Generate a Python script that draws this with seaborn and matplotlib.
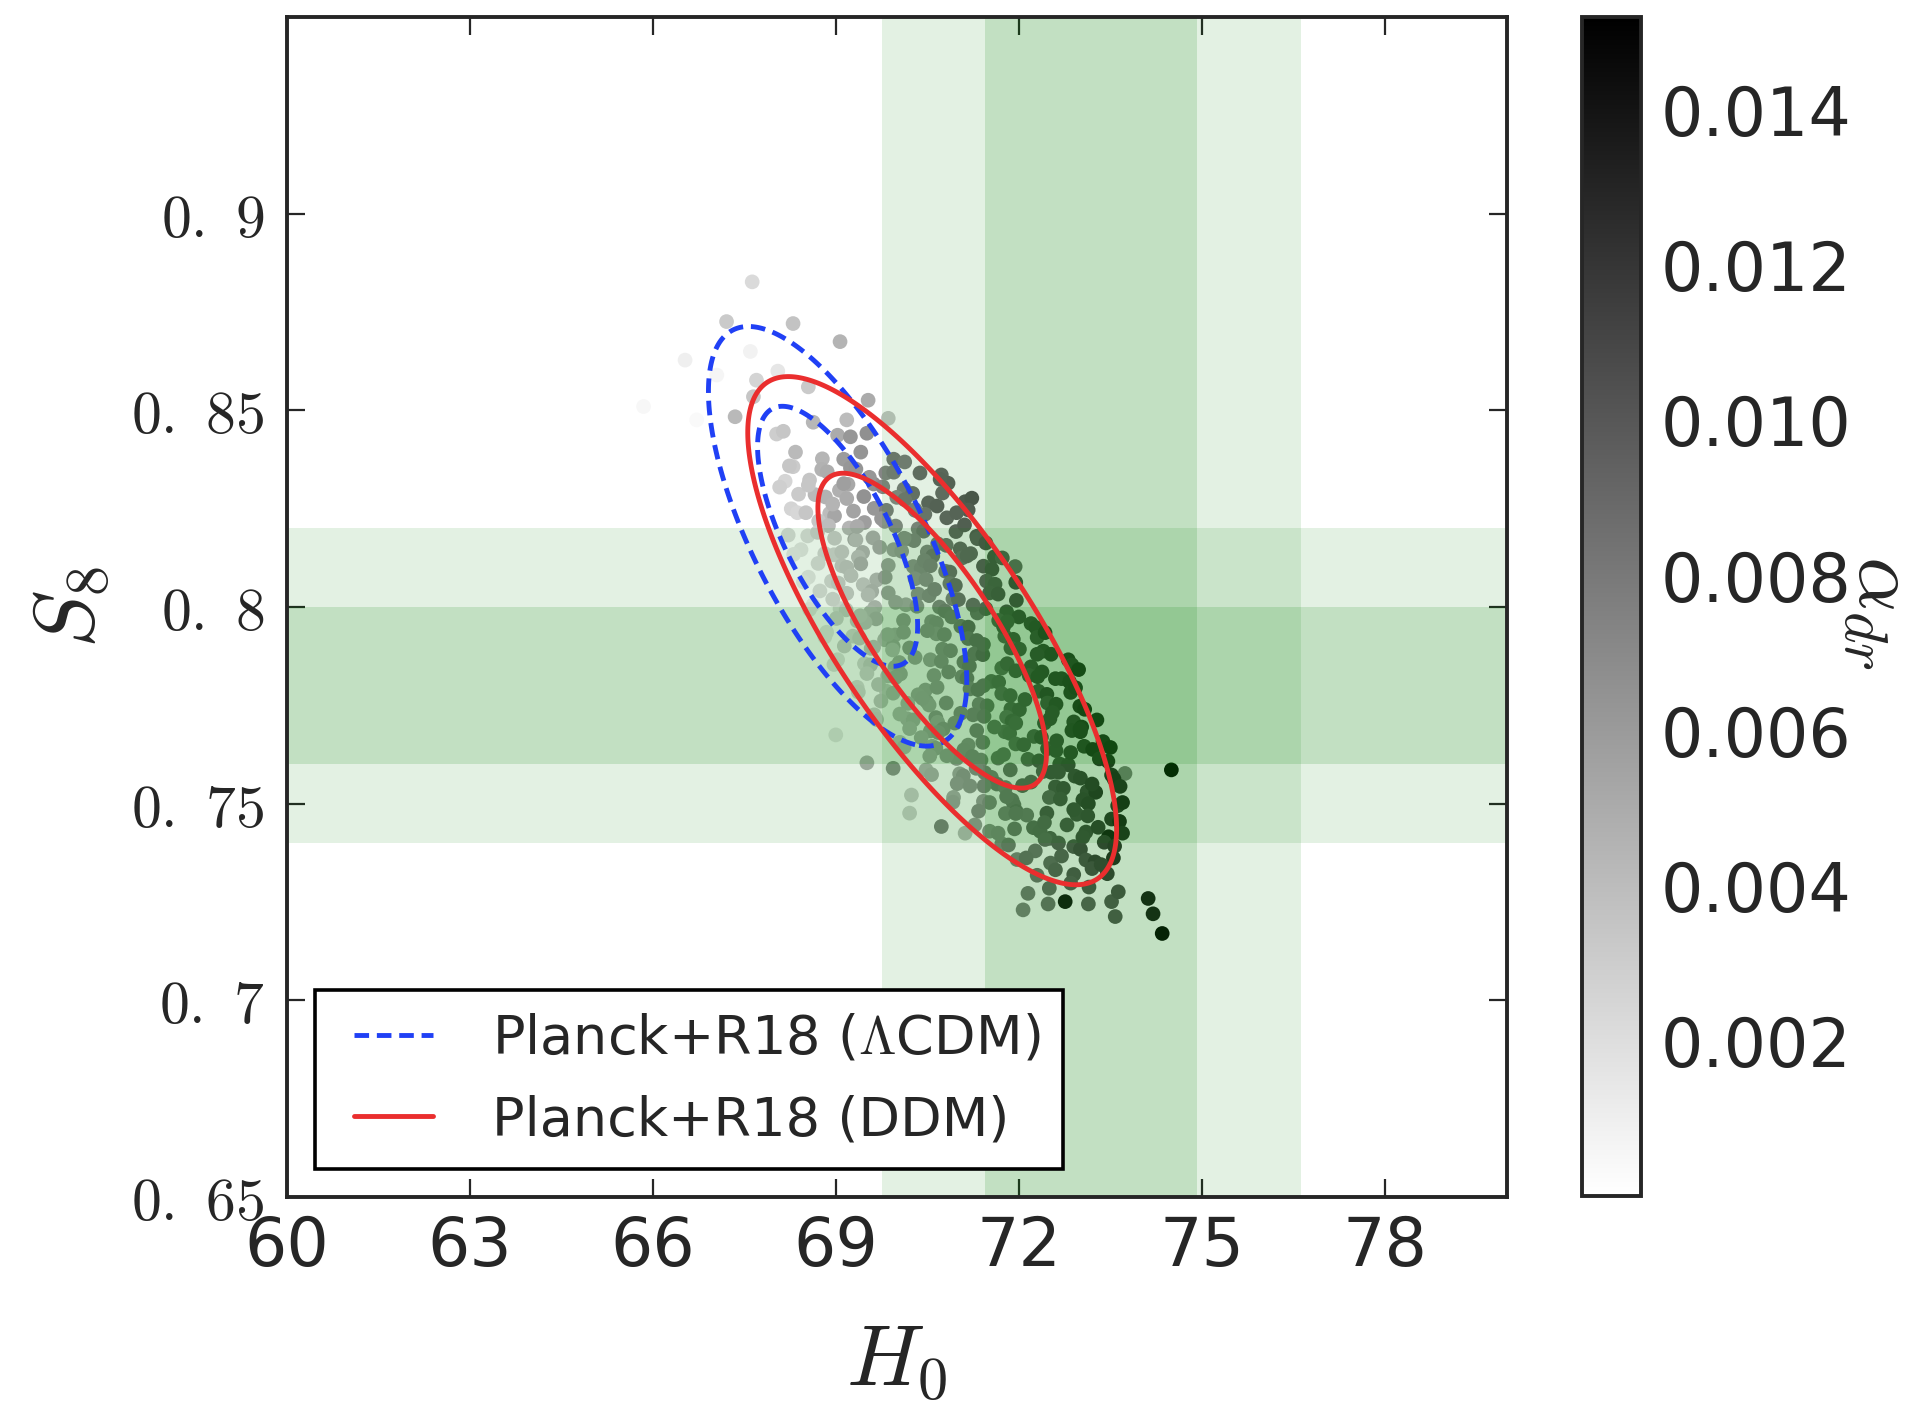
import numpy as np
import pandas as pd
import matplotlib
matplotlib.use("Agg")
import matplotlib.pyplot as plt
import seaborn as sns
from matplotlib.lines import Line2D
from matplotlib.legend_handler import HandlerLine2D
from matplotlib.colors import Normalize
from matplotlib.cm import ScalarMappable

# ---------------- data ----------------
H0_pts = [
    67.63, 67.21, 68.30, 69.07, 66.53, 67.60, 65.85, 66.72, 67.35, 67.70, 67.65, 69.53, 69.86, 69.18, 68.05, 68.55, 67.05,
    68.03, 68.14, 68.63, 69.03, 69.24, 69.51,
    68.30, 68.34, 68.78, 69.13, 69.24, 69.41, 69.95, 70.13,
    68.17, 68.24, 68.77, 68.86, 69.20, 69.33, 69.82, 69.95, 70.38, 70.73, 70.84,
    68.08, 68.57, 68.66, 69.06, 69.13, 69.62, 69.77, 70.12, 70.26, 70.71,
    68.27, 68.39, 68.83, 69.18, 69.29, 69.46, 70.00, 70.13, 70.52, 70.66, 71.12, 71.23, 71.17,
    68.37, 68.51, 68.90, 68.98, 69.47, 69.63, 69.83, 70.30, 70.46, 70.82, 70.98,
    68.22, 68.72, 68.88, 69.22, 69.31, 69.80, 69.98, 70.35, 70.44, 70.97, 71.11, 71.31,
    68.43, 68.54, 68.98, 69.33, 69.44, 69.61, 70.15, 70.28, 70.67, 70.81, 71.32, 71.04, 71.46,
    68.31, 68.82, 68.97, 69.37, 69.41, 69.95, 70.08, 70.50, 70.59, 71.07, 71.21, 71.60, 71.73, 71.94,
    68.55, 68.71, 69.10, 69.18, 69.67, 69.86, 70.27, 70.40, 70.80, 70.87, 71.42, 71.56,
    68.47, 68.93, 69.04, 69.45, 69.59, 69.81, 70.30, 70.48, 70.87, 70.96, 71.47, 71.61, 71.95,
    68.63, 68.74, 69.18, 69.53, 69.64, 69.86, 70.35, 70.53, 70.92, 71.01, 71.52, 71.66, 71.96,
    68.57, 69.07, 69.17, 69.57, 69.66, 70.15, 70.33, 70.70, 70.79, 71.32, 71.46, 71.80, 72.00,
    68.85, 69.01, 69.35, 69.48, 69.97, 70.11, 70.57, 70.65, 71.05, 71.17, 71.67, 71.81, 72.20, 72.28,
    68.82, 69.28, 69.39, 69.80, 69.94, 70.11, 70.65, 70.78, 71.17, 71.31, 71.77, 71.91, 72.30, 72.43,
    69.03, 69.14, 69.58, 69.93, 70.04, 70.21, 70.75, 70.88, 71.27, 71.41, 71.87, 72.01, 72.40, 72.53, 72.81,
    68.97, 69.47, 69.57, 69.97, 70.06, 70.55, 70.73, 71.10, 71.19, 71.72, 71.81, 72.20, 72.38, 72.87, 72.98,
    69.35, 69.51, 69.85, 69.98, 70.47, 70.61, 71.07, 71.15, 71.55, 71.67, 72.17, 72.31, 72.70, 72.83,
    69.37, 69.83, 69.94, 70.35, 70.49, 70.66, 71.20, 71.33, 71.72, 71.86, 72.32, 72.46, 72.85, 72.93,
    69.63, 69.74, 70.18, 70.53, 70.64, 70.81, 71.35, 71.48, 71.87, 72.01, 72.47, 72.61, 73.00, 73.08,
    69.67, 70.17, 70.27, 70.67, 70.76, 71.25, 71.43, 71.80, 71.89, 72.42, 72.51, 72.90, 73.03, 73.28,
    69.00, 70.05, 70.21, 70.55, 70.68, 71.17, 71.31, 71.77, 71.85, 72.25, 72.37, 72.87, 73.01, 73.38,
    70.12, 70.58, 70.64, 71.10, 71.24, 71.41, 71.95, 72.08, 72.47, 72.61, 73.07, 73.21, 73.50,
    69.51, 69.94, 70.48, 70.54, 70.98, 71.38, 71.44, 71.66, 72.15, 72.33, 72.67, 72.81, 73.32, 73.46, 73.74, 74.50,
    70.57, 71.03, 71.09, 71.55, 71.64, 71.86, 72.40, 72.53, 72.92, 73.01, 73.52, 73.56,
    70.24, 70.93, 70.99, 71.43, 71.78, 71.89, 72.06, 72.60, 72.73, 73.12, 73.26, 73.66,
    70.92, 71.42, 71.52, 71.92, 71.96, 72.50, 72.68, 73.05, 73.14, 73.62, 73.70,
    70.21, 71.28, 71.34, 71.78, 72.13, 72.24, 72.46, 72.95, 73.13, 73.52, 73.65,
    70.73, 71.12, 71.52, 71.66, 71.93, 72.35, 72.51, 72.79, 73.10, 73.47, 73.70,
    71.72, 71.83, 72.27, 72.43, 72.90, 73.01, 73.40, 73.57,
    71.97, 72.12, 72.52, 72.70, 73.10, 73.25, 73.55,
    72.30, 72.60, 72.90, 73.20, 73.45,
    72.50, 72.85, 73.15,
    72.15, 72.07, 72.48, 72.76, 73.14, 73.52, 73.63, 73.58, 74.12, 74.20, 74.35,
    69.72, 70.45, 69.25, 70.62, 69.98, 71.25, 69.40, 70.50, 71.42, 69.62,
    70.30, 71.95, 70.85, 69.70, 71.42, 70.42, 72.10, 71.05, 70.05, 72.55,
    71.60, 70.40, 72.62, 71.75, 70.82, 72.85, 71.30, 72.20, 73.20, 71.80,
    72.90, 72.42, 73.30, 72.65, 73.35, 68.95, 69.75, 68.70, 70.12, 69.10,
    70.75, 69.55, 68.55, 70.55, 71.15, 68.95, 70.90, 71.75, 72.30, 72.60,
    69.85, 70.95, 71.95, 73.00, 71.20, 72.65, 73.05, 71.95, 69.35, 70.30,
]
S8_pts = [
    0.8827, 0.8726, 0.8721, 0.8675, 0.8628, 0.8650, 0.8510, 0.8476, 0.8484, 0.8577, 0.8535, 0.8526, 0.8480, 0.8476, 0.8600, 0.8560, 0.8590,
    0.8440, 0.8447, 0.8470, 0.8437, 0.8433, 0.8442,
    0.8357, 0.8394, 0.8377, 0.8376, 0.8354, 0.8394, 0.8376, 0.8369,
    0.8320, 0.8359, 0.8350, 0.8344, 0.8312, 0.8351, 0.8341, 0.8343, 0.8341, 0.8336, 0.8315,
    0.8305, 0.8323, 0.8286, 0.8297, 0.8314, 0.8313, 0.8306, 0.8300, 0.8289, 0.8325,
    0.8250, 0.8287, 0.8280, 0.8276, 0.8244, 0.8281, 0.8279, 0.8273, 0.8265, 0.8257, 0.8268, 0.8277, 0.8247,
    0.8240, 0.8240, 0.8238, 0.8232, 0.8215, 0.8251, 0.8246, 0.8246, 0.8236, 0.8227, 0.8240,
    0.8183, 0.8219, 0.8207, 0.8201, 0.8172, 0.8218, 0.8206, 0.8199, 0.8193, 0.8192, 0.8209, 0.8180,
    0.8146, 0.8181, 0.8175, 0.8171, 0.8139, 0.8176, 0.8173, 0.8169, 0.8161, 0.8157, 0.8174, 0.8148, 0.8163,
    0.8134, 0.8136, 0.8133, 0.8127, 0.8110, 0.8146, 0.8142, 0.8140, 0.8130, 0.8125, 0.8136, 0.8128, 0.8125, 0.8103,
    0.8076, 0.8111, 0.8105, 0.8101, 0.8069, 0.8106, 0.8103, 0.8099, 0.8091, 0.8089, 0.8104, 0.8096,
    0.8064, 0.8066, 0.8061, 0.8057, 0.8040, 0.8076, 0.8072, 0.8070, 0.8060, 0.8055, 0.8066, 0.8058, 0.8063,
    0.8006, 0.8041, 0.8035, 0.8031, 0.7999, 0.8036, 0.8033, 0.8029, 0.8021, 0.8019, 0.8036, 0.8033, 0.8017,
    0.7994, 0.7996, 0.7993, 0.7987, 0.7970, 0.8006, 0.8002, 0.8000, 0.7990, 0.7985, 0.7996, 0.7988, 0.7975,
    0.7936, 0.7971, 0.7965, 0.7961, 0.7929, 0.7966, 0.7963, 0.7959, 0.7951, 0.7949, 0.7966, 0.7963, 0.7958, 0.7948,
    0.7924, 0.7926, 0.7921, 0.7917, 0.7900, 0.7936, 0.7932, 0.7930, 0.7920, 0.7915, 0.7926, 0.7918, 0.7923, 0.7935,
    0.7866, 0.7901, 0.7895, 0.7891, 0.7859, 0.7896, 0.7893, 0.7889, 0.7881, 0.7879, 0.7896, 0.7893, 0.7888, 0.7880, 0.7866,
    0.7854, 0.7856, 0.7853, 0.7847, 0.7830, 0.7866, 0.7862, 0.7860, 0.7850, 0.7845, 0.7856, 0.7848, 0.7835, 0.7853, 0.7841,
    0.7796, 0.7831, 0.7825, 0.7821, 0.7789, 0.7826, 0.7823, 0.7819, 0.7811, 0.7809, 0.7826, 0.7823, 0.7818, 0.7810,
    0.7784, 0.7786, 0.7781, 0.7777, 0.7760, 0.7796, 0.7792, 0.7790, 0.7780, 0.7775, 0.7786, 0.7778, 0.7783, 0.7795,
    0.7726, 0.7761, 0.7755, 0.7751, 0.7719, 0.7756, 0.7753, 0.7749, 0.7741, 0.7739, 0.7756, 0.7753, 0.7748, 0.7740,
    0.7714, 0.7716, 0.7713, 0.7707, 0.7690, 0.7726, 0.7722, 0.7720, 0.7710, 0.7705, 0.7716, 0.7708, 0.7695, 0.7713,
    0.7675, 0.7656, 0.7691, 0.7685, 0.7681, 0.7649, 0.7686, 0.7683, 0.7679, 0.7671, 0.7669, 0.7686, 0.7683, 0.7658,
    0.7644, 0.7646, 0.7641, 0.7637, 0.7620, 0.7656, 0.7652, 0.7650, 0.7640, 0.7635, 0.7646, 0.7638, 0.7643,
    0.7604, 0.7590, 0.7586, 0.7621, 0.7615, 0.7611, 0.7579, 0.7616, 0.7613, 0.7609, 0.7601, 0.7599, 0.7614, 0.7608, 0.7577, 0.7586,
    0.7574, 0.7576, 0.7571, 0.7567, 0.7550, 0.7586, 0.7582, 0.7580, 0.7570, 0.7565, 0.7573, 0.7563,
    0.7522, 0.7516, 0.7551, 0.7545, 0.7541, 0.7509, 0.7546, 0.7543, 0.7539, 0.7531, 0.7529, 0.7544,
    0.7504, 0.7506, 0.7503, 0.7497, 0.7480, 0.7516, 0.7512, 0.7510, 0.7500, 0.7495, 0.7503,
    0.7476, 0.7446, 0.7481, 0.7475, 0.7471, 0.7439, 0.7476, 0.7473, 0.7469, 0.7461, 0.7455,
    0.7442, 0.7425, 0.7430, 0.7425, 0.7436, 0.7430, 0.7412, 0.7446, 0.7428, 0.7416, 0.7425,
    0.7398, 0.7395, 0.7380, 0.7409, 0.7391, 0.7384, 0.7402, 0.7392,
    0.7358, 0.7362, 0.7349, 0.7367, 0.7357, 0.7352, 0.7362,
    0.7318, 0.7332, 0.7320, 0.7335, 0.7322,
    0.7285, 0.7298, 0.7288,
    0.7272, 0.7230, 0.7245, 0.7251, 0.7245, 0.7251, 0.7276, 0.7213, 0.7259, 0.7220, 0.7170,
    0.8152, 0.8118, 0.8080, 0.8045, 0.8012, 0.8005, 0.7978, 0.7940, 0.7905, 0.7898,
    0.7872, 0.7838, 0.7835, 0.7803, 0.7800, 0.7768, 0.7765, 0.7730, 0.7728, 0.7732,
    0.7695, 0.7668, 0.7660, 0.7625, 0.7622, 0.7630, 0.7590, 0.7555, 0.7550, 0.7518,
    0.7485, 0.7452, 0.7440, 0.7400, 0.7345, 0.8262, 0.8225, 0.8190, 0.8175, 0.8140,
    0.8290, 0.8330, 0.8310, 0.8105, 0.8130, 0.8020, 0.7975, 0.7950, 0.7880, 0.7818,
    0.7930, 0.7705, 0.7705, 0.7690, 0.7545, 0.7580, 0.7415, 0.7475, 0.8205, 0.8248,
]
alpha_pts = [
    0.0022, 0.0032, 0.0036, 0.0045, 0.0010, 0.0008, 0.0005, 0.0004, 0.0042, 0.0026, 0.0034, 0.0050, 0.0034, 0.0040, 0.0015, 0.0032, 0.0006,
    0.0030, 0.0034, 0.0043, 0.0050, 0.0062, 0.0066,
    0.0031, 0.0041, 0.0044, 0.0059, 0.0062, 0.0063, 0.0081, 0.0078,
    0.0025, 0.0034, 0.0046, 0.0049, 0.0052, 0.0063, 0.0073, 0.0078, 0.0088, 0.0092, 0.0095,
    0.0029, 0.0035, 0.0042, 0.0047, 0.0057, 0.0067, 0.0073, 0.0077, 0.0086, 0.0094,
    0.0026, 0.0032, 0.0046, 0.0050, 0.0055, 0.0065, 0.0070, 0.0081, 0.0093, 0.0095, 0.0100, 0.0103, 0.0099,
    0.0024, 0.0034, 0.0040, 0.0053, 0.0058, 0.0062, 0.0076, 0.0078, 0.0083, 0.0092, 0.0094,
    0.0022, 0.0034, 0.0040, 0.0044, 0.0054, 0.0064, 0.0069, 0.0073, 0.0082, 0.0093, 0.0097, 0.0099,
    0.0017, 0.0021, 0.0032, 0.0042, 0.0047, 0.0050, 0.0063, 0.0073, 0.0078, 0.0084, 0.0095, 0.0091, 0.0103,
    0.0015, 0.0026, 0.0029, 0.0040, 0.0050, 0.0055, 0.0059, 0.0071, 0.0082, 0.0086, 0.0091, 0.0103, 0.0096, 0.0088,
    0.0016, 0.0023, 0.0034, 0.0038, 0.0044, 0.0055, 0.0065, 0.0070, 0.0076, 0.0086, 0.0097, 0.0103,
    0.0014, 0.0025, 0.0031, 0.0035, 0.0046, 0.0058, 0.0062, 0.0067, 0.0078, 0.0088, 0.0094, 0.0099, 0.0109,
    0.0011, 0.0022, 0.0033, 0.0038, 0.0043, 0.0054, 0.0064, 0.0070, 0.0074, 0.0085, 0.0097, 0.0102, 0.0106,
    0.0015, 0.0020, 0.0030, 0.0041, 0.0047, 0.0051, 0.0062, 0.0072, 0.0078, 0.0083, 0.0094, 0.0104, 0.0110,
    0.0016, 0.0027, 0.0031, 0.0037, 0.0048, 0.0058, 0.0063, 0.0067, 0.0079, 0.0090, 0.0094, 0.0100, 0.0111, 0.0114,
    0.0015, 0.0025, 0.0031, 0.0041, 0.0052, 0.0056, 0.0061, 0.0071, 0.0083, 0.0088, 0.0092, 0.0104, 0.0108, 0.0120,
    0.0018, 0.0029, 0.0035, 0.0039, 0.0050, 0.0060, 0.0066, 0.0070, 0.0081, 0.0092, 0.0096, 0.0101, 0.0113, 0.0117, 0.0125,
    0.0019, 0.0024, 0.0034, 0.0046, 0.0051, 0.0055, 0.0067, 0.0077, 0.0082, 0.0087, 0.0097, 0.0109, 0.0114, 0.0118, 0.0128,
    0.0023, 0.0028, 0.0038, 0.0050, 0.0055, 0.0059, 0.0070, 0.0080, 0.0086, 0.0091, 0.0101, 0.0113, 0.0118, 0.0122,
    0.0025, 0.0031, 0.0042, 0.0052, 0.0057, 0.0061, 0.0073, 0.0083, 0.0088, 0.0094, 0.0104, 0.0116, 0.0120, 0.0123,
    0.0030, 0.0036, 0.0042, 0.0052, 0.0063, 0.0067, 0.0072, 0.0082, 0.0094, 0.0099, 0.0103, 0.0115, 0.0127, 0.0130,
    0.0032, 0.0043, 0.0047, 0.0052, 0.0064, 0.0074, 0.0079, 0.0083, 0.0095, 0.0106, 0.0110, 0.0115, 0.0126, 0.0131,
    0.0015, 0.0032, 0.0044, 0.0054, 0.0059, 0.0065, 0.0075, 0.0086, 0.0090, 0.0095, 0.0107, 0.0117, 0.0122, 0.0128,
    0.0039, 0.0045, 0.0055, 0.0066, 0.0071, 0.0075, 0.0087, 0.0097, 0.0102, 0.0108, 0.0118, 0.0129, 0.0132,
    0.0048, 0.0065, 0.0045, 0.0049, 0.0060, 0.0071, 0.0075, 0.0081, 0.0091, 0.0102, 0.0106, 0.0111, 0.0123, 0.0128, 0.0075, 0.0147,
    0.0048, 0.0054, 0.0064, 0.0075, 0.0079, 0.0085, 0.0096, 0.0106, 0.0111, 0.0115, 0.0127, 0.0129,
    0.0030, 0.0051, 0.0061, 0.0072, 0.0076, 0.0081, 0.0091, 0.0103, 0.0107, 0.0112, 0.0124, 0.0127,
    0.0056, 0.0061, 0.0071, 0.0083, 0.0087, 0.0092, 0.0104, 0.0114, 0.0119, 0.0123, 0.0132,
    0.0028, 0.0060, 0.0070, 0.0075, 0.0079, 0.0090, 0.0102, 0.0106, 0.0111, 0.0123, 0.0134,
    0.0075, 0.0040, 0.0065, 0.0069, 0.0081, 0.0091, 0.0096, 0.0101, 0.0111, 0.0138, 0.0128,
    0.0069, 0.0080, 0.0084, 0.0090, 0.0101, 0.0111, 0.0116, 0.0122,
    0.0074, 0.0086, 0.0090, 0.0095, 0.0105, 0.0116, 0.0128,
    0.0084, 0.0095, 0.0101, 0.0106, 0.0116,
    0.0090, 0.0097, 0.0103,
    0.0080, 0.0075, 0.0085, 0.0140, 0.0095, 0.0100, 0.0105, 0.0100, 0.0135, 0.0135, 0.0148,
    0.0053, 0.0072, 0.0036, 0.0073, 0.0053, 0.0088, 0.0035, 0.0064, 0.0088, 0.0037,
    0.0055, 0.0100, 0.0069, 0.0035, 0.0083, 0.0053, 0.0100, 0.0069, 0.0041, 0.0111,
    0.0083, 0.0048, 0.0109, 0.0083, 0.0057, 0.0114, 0.0069, 0.0092, 0.0120, 0.0079,
    0.0108, 0.0093, 0.0117, 0.0097, 0.0114, 0.0045, 0.0062, 0.0030, 0.0065, 0.0035,
    0.0089, 0.0062, 0.0034, 0.0074, 0.0092, 0.0025, 0.0077, 0.0100, 0.0111, 0.0117,
    0.0046, 0.0065, 0.0093, 0.0122, 0.0064, 0.0106, 0.0109, 0.0081, 0.0050, 0.0074,
]

# R18 H0 and S8 bands (1 sigma, 2 sigma)
H0_band_1sig = (71.45, 74.92)
H0_band_2sig = (69.76, 76.62)
S8_band_1sig = (0.760, 0.800)
S8_band_2sig = (0.740, 0.820)

# Gaussian contour summaries: mean (H0, S8), sigmas, correlation
lcdm_mean = (69.03, 0.818)
lcdm_sigma = (0.865, 0.0218)
lcdm_rho = -0.69
ddm_mean = (70.58, 0.794)
ddm_sigma = (1.235, 0.0264)
ddm_rho = -0.78
contour_levels = [2.30, 5.99]   # 68% and 95% (2 dof)

legend_labels = [r"Planck+R18 ($\Lambda$CDM)", "Planck+R18 (DDM)"]

x_ticks = [60, 63, 66, 69, 72, 75, 78]
x_tick_labels = ["60", "63", "66", "69", "72", "75", "78"]
y_ticks = [0.65, 0.70, 0.75, 0.80, 0.85, 0.90]
y_tick_labels = [r"$0.\ 65$", r"$0.\ 7$", r"$0.\ 75$", r"$0.\ 8$", r"$0.\ 85$", r"$0.\ 9$"]
cbar_ticks = [0.002, 0.004, 0.006, 0.008, 0.010, 0.012, 0.014]
cbar_tick_labels = ["0.002", "0.004", "0.006", "0.008", "0.010", "0.012", "0.014"]
cbar_min, cbar_max = 0.0, 0.0152

# ---------------- style ----------------
sns.set_style("ticks")
plt.rcParams["font.family"] = ["DejaVu Sans"]
plt.rcParams["mathtext.fontset"] = "cm"
plt.rcParams["lines.dashed_pattern"] = [3.0, 1.6]

BLUE = "#2040f5"
RED = "#ea2e2e"
GREEN = "#008000"
SPINE = "#262626"
CMAP = "gray_r"

fig = plt.figure(figsize=(19.29, 14.10), dpi=100)
ax = fig.add_axes([0.1486, 0.1511, 0.6326, 0.8367])
cax = fig.add_axes([0.8201, 0.1518, 0.0306, 0.8360])

df = pd.DataFrame({"H0": H0_pts, "S8": S8_pts, "alpha": alpha_pts})
sns.scatterplot(data=df, x="H0", y="S8", hue="alpha", palette=CMAP,
                hue_norm=(cbar_min, cbar_max), s=112, linewidth=0,
                legend=False, ax=ax, zorder=1)

# bands (drawn over the points, as in the reference)
ax.axvspan(*H0_band_2sig, color=GREEN, alpha=0.11, lw=0, zorder=2)
ax.axvspan(*H0_band_1sig, color=GREEN, alpha=0.145, lw=0, zorder=2)
ax.axhspan(*S8_band_2sig, color=GREEN, alpha=0.11, lw=0, zorder=2)
ax.axhspan(*S8_band_1sig, color=GREEN, alpha=0.145, lw=0, zorder=2)

# contours
gx = np.linspace(60, 80, 700)
gy = np.linspace(0.65, 0.95, 700)
GX, GY = np.meshgrid(gx, gy)


def mahal2(mean, sig, rho):
    dx = (GX - mean[0]) / sig[0]
    dy = (GY - mean[1]) / sig[1]
    return (dx ** 2 - 2 * rho * dx * dy + dy ** 2) / (1 - rho ** 2)


ax.contour(GX, GY, mahal2(lcdm_mean, lcdm_sigma, lcdm_rho), levels=contour_levels,
           colors=BLUE, linewidths=3.5, linestyles="dashed", zorder=4)
ax.contour(GX, GY, mahal2(ddm_mean, ddm_sigma, ddm_rho), levels=contour_levels,
           colors=RED, linewidths=3.5, linestyles="solid", zorder=5)

ax.set_xlim(60, 80)
ax.set_ylim(0.65, 0.95)
ax.set_xticks(x_ticks)
ax.set_xticklabels(x_tick_labels)
ax.set_yticks(y_ticks)
ax.set_yticklabels(y_tick_labels)
ax.tick_params(direction="in", length=13, width=1.6, top=True, right=True,
               color=SPINE)
ax.tick_params(axis="x", labelsize=48, pad=12)
ax.tick_params(axis="y", labelsize=43, pad=16)
for sp in ax.spines.values():
    sp.set_linewidth(2.8)
    sp.set_color(SPINE)

ax.set_xlabel(r"$H_0$", fontsize=62)
ax.xaxis.set_label_coords(0.5, -0.105)
ax.set_ylabel(r"$S_8$", fontsize=62)
ax.yaxis.set_label_coords(-0.143, 0.5)

handles = [Line2D([], [], color=BLUE, lw=3.5, ls="--"),
           Line2D([], [], color=RED, lw=3.5, ls="-")]
leg = ax.legend(handles, legend_labels, loc="lower left",
                bbox_to_anchor=(0.0233, 0.0237), borderaxespad=0,
                fontsize=39, frameon=True, fancybox=False, framealpha=1,
                edgecolor="black", borderpad=0.42, labelspacing=0.54,
                handlelength=1.76, handletextpad=1.09,
                handler_map={Line2D: HandlerLine2D(xpad=0.3)})
leg.get_frame().set_linewidth(2.6)
leg.set_zorder(10)

# colorbar
sm = ScalarMappable(norm=Normalize(vmin=cbar_min, vmax=cbar_max), cmap=CMAP)
cb = fig.colorbar(sm, cax=cax)
cb.set_ticks(cbar_ticks)
cb.set_ticklabels(cbar_tick_labels)
cax.tick_params(direction="in", length=13, width=1.6, labelsize=48, pad=14,
                color=SPINE)
cb.outline.set_linewidth(2.8)
cb.outline.set_edgecolor(SPINE)
fig.text(0.9755, 0.566, r"$\alpha_{dr}$", fontsize=62, rotation=270,
         ha="center", va="center")

fig.savefig("out.png", dpi=100)
